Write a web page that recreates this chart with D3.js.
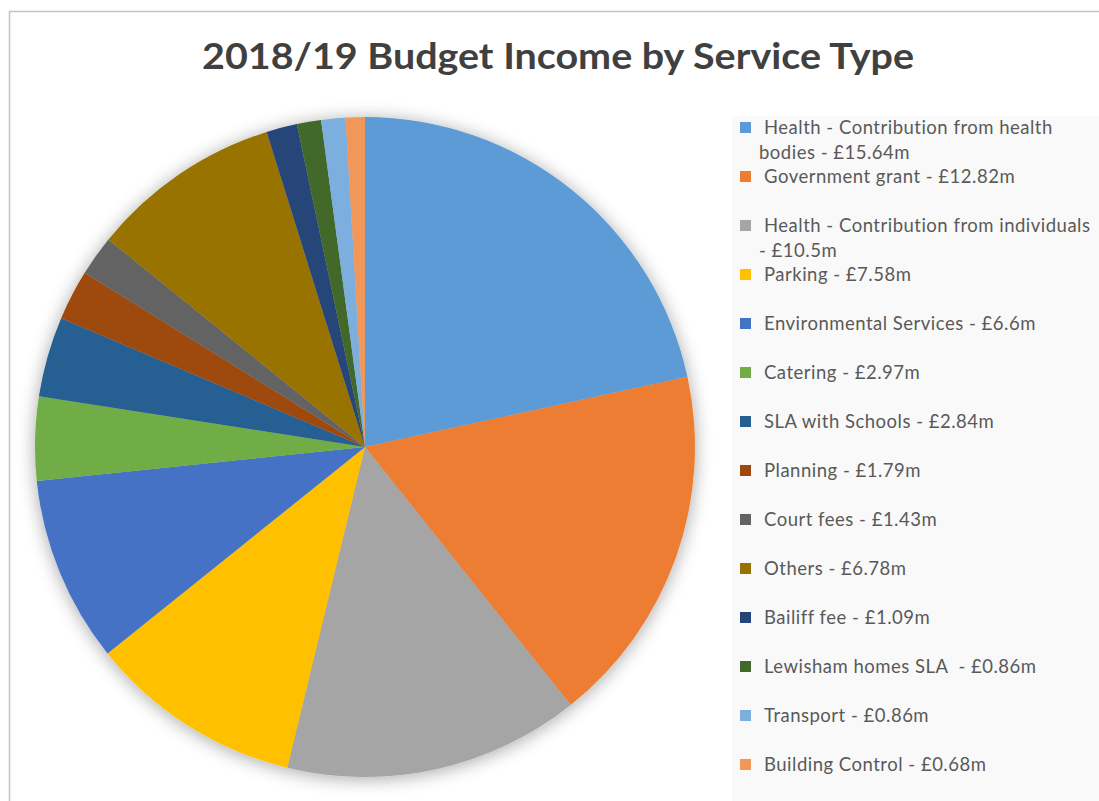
<!DOCTYPE html>
<html>
<head>
<meta charset="utf-8">
<script src="https://cdn.jsdelivr.net/npm/d3@7"></script>
<style>
  html, body { margin: 0; padding: 0; background: #fff; }
  svg { display: block; }
  .legend-text { white-space: pre; }
</style>
</head>
<body>
<svg id="chart" width="1099" height="801"></svg>
<script>
// Income categories, in drawing order (clockwise from 12 o'clock)
const categories = [
  "Health - Contribution from health bodies",
  "Government grant",
  "Health - Contribution from individuals",
  "Parking",
  "Environmental Services",
  "Catering",
  "SLA with Schools",
  "Planning",
  "Court fees",
  "Others",
  "Bailiff fee",
  "Lewisham homes SLA ",
  "Transport",
  "Building Control"
];
// Income in £ millions
const values = [15.64, 12.82, 10.5, 7.58, 6.6, 2.97, 2.84, 1.79, 1.43, 6.78, 1.09, 0.86, 0.86, 0.68];
// Value text as printed in the legend
const valueLabels = ["£15.64m", "£12.82m", "£10.5m", "£7.58m", "£6.6m", "£2.97m", "£2.84m", "£1.79m", "£1.43m", "£6.78m", "£1.09m", "£0.86m", "£0.86m", "£0.68m"];
// Legend text wrapped onto lines
const legendLines = [
  ["Health - Contribution from health", "bodies - £15.64m"],
  ["Government grant - £12.82m"],
  ["Health - Contribution from individuals", "- £10.5m"],
  ["Parking - £7.58m"],
  ["Environmental Services - £6.6m"],
  ["Catering - £2.97m"],
  ["SLA with Schools - £2.84m"],
  ["Planning - £1.79m"],
  ["Court fees - £1.43m"],
  ["Others - £6.78m"],
  ["Bailiff fee - £1.09m"],
  ["Lewisham homes SLA  - £0.86m"],
  ["Transport - £0.86m"],
  ["Building Control - £0.68m"]
];
const colors = ["#5B9BD5", "#ED7D31", "#A5A5A5", "#FFC000", "#4472C4", "#70AD47", "#255E91",
                "#9E480E", "#636363", "#997300", "#264478", "#43682B", "#7CAFDD", "#F1975A"];
const title = "2018/19 Budget Income by Service Type";

const svg = d3.select("#chart");
const font = "Lato, 'Open Sans', sans-serif";

// chart frame
svg.append("rect")
  .attr("x", 9.5).attr("y", 11.5)
  .attr("width", 1200).attr("height", 1000)
  .attr("fill", "#fff")
  .attr("stroke", "#c4c4c4")
  .attr("stroke-width", 1.5);

// soft shadow under the pie
const defs = svg.append("defs");
const f = defs.append("filter").attr("id", "pieShadow")
  .attr("x", "-20%").attr("y", "-20%").attr("width", "140%").attr("height", "140%");
f.append("feGaussianBlur").attr("in", "SourceAlpha").attr("stdDeviation", 9).attr("result", "blur");
f.append("feOffset").attr("in", "blur").attr("dx", 0).attr("dy", 2).attr("result", "off");
f.append("feComponentTransfer").attr("in", "off").attr("result", "shadow")
  .append("feFuncA").attr("type", "linear").attr("slope", 0.35);
const merge = f.append("feMerge");
merge.append("feMergeNode").attr("in", "shadow");
merge.append("feMergeNode").attr("in", "SourceGraphic");

// title
svg.append("text")
  .attr("x", 558).attr("y", 69)
  .attr("text-anchor", "middle")
  .attr("font-family", font)
  .attr("font-weight", "bold")
  .attr("font-size", 36)
  .attr("fill", "#404040")
  .attr("textLength", 712)
  .attr("lengthAdjust", "spacingAndGlyphs")
  .text(title);

// pie
const cx = 365, cy = 447, radius = 330;
const pie = d3.pie().sort(null).value(d => d)(values);
const arc = d3.arc().innerRadius(0).outerRadius(radius);

const g = svg.append("g")
  .attr("transform", `translate(${cx},${cy})`)
  .attr("filter", "url(#pieShadow)");
g.selectAll("path")
  .data(pie)
  .join("path")
  .attr("d", arc)
  .attr("fill", (d, i) => colors[i]);

// legend
const legendX = 732, legendY = 116;
svg.append("rect")
  .attr("x", legendX).attr("y", legendY)
  .attr("width", 1099 - legendX).attr("height", 801 - legendY)
  .attr("fill", "#f9f9f9");

const rowY = d3.scalePoint()
  .domain(d3.range(categories.length))
  .range([128, 765]);

const items = svg.append("g").selectAll("g")
  .data(categories)
  .join("g")
  .attr("transform", (d, i) => `translate(0,${rowY(i)})`);

items.append("rect")
  .attr("x", 740).attr("y", -6)
  .attr("width", 11).attr("height", 11)
  .attr("fill", (d, i) => colors[i]);

items.each(function(d, i) {
  const sel = d3.select(this);
  legendLines[i].forEach((line, k) => {
    sel.append("text")
      .attr("class", "legend-text")
      .attr("x", k === 0 ? 764 : 759)
      .attr("y", k * 25)
      .attr("dy", "0.35em")
      .attr("font-family", font)
      .attr("font-size", 18.5)
      .attr("letter-spacing", 0.5)
      .attr("fill", "#595959")
      .text(line);
  });
});
</script>
</body>
</html>
